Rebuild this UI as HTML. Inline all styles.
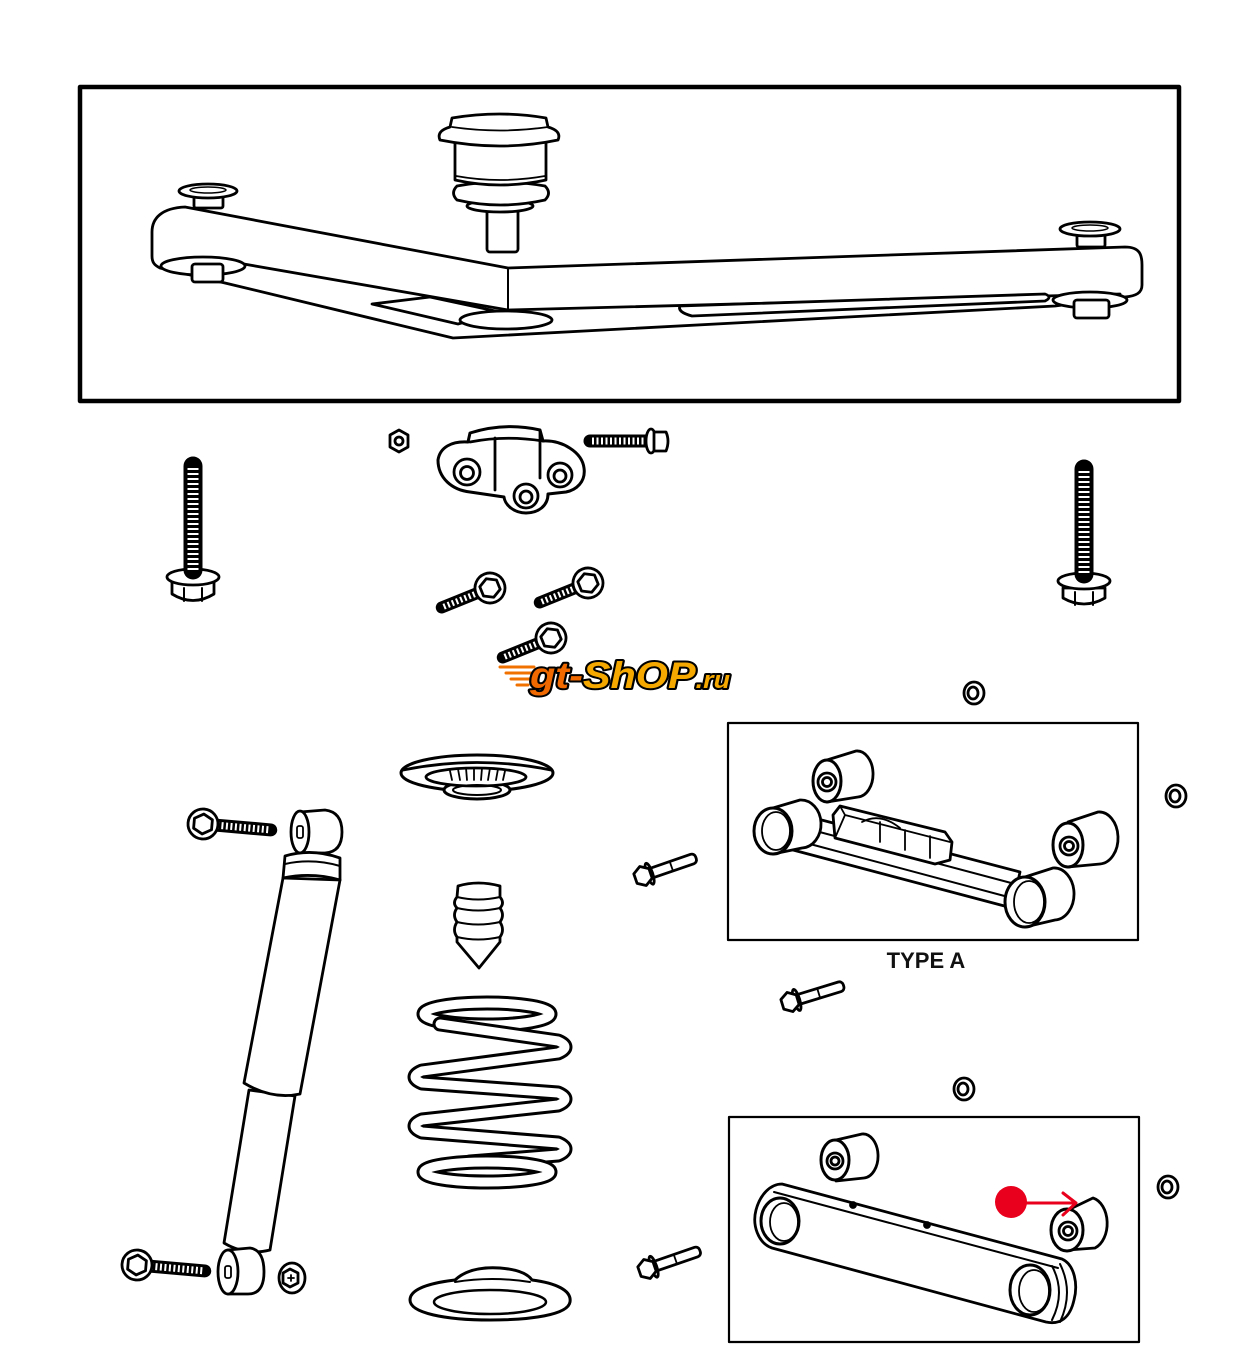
<!DOCTYPE html>
<html><head><meta charset="utf-8"><style>html,body{margin:0;padding:0;background:#fff}svg{display:block}</style></head>
<body>
<svg width="1235" height="1350" viewBox="0 0 1235 1350" xmlns="http://www.w3.org/2000/svg">
<rect width="1235" height="1350" fill="#fff"/>
<g fill="#fff" stroke="#000" stroke-width="2.8" stroke-linejoin="round" stroke-linecap="round">

<!-- TOP FRAME -->
<rect x="80" y="87" width="1099" height="314" fill="none" stroke-width="4.5"/>

<!-- Control arm -->
<path d="M185,207 L508,268 L1125,247 C1140,247 1142,255 1142,265 L1142,285 C1142,293 1136,296 1125,297 L1055,306 L453,338 L225,283 L160,268 C154,265 152,262 152,256 L152,232 C152,218 162,208 185,207 Z"/>
<path d="M238,263 L508,310 L1120,294" fill="none"/>
<path d="M508,268 L508,310" fill="none" stroke-width="2"/>
<path d="M372,304 L430,297 L500,312 L458,324 Z"/>
<ellipse cx="506" cy="320" rx="46" ry="9"/>
<path d="M680,306 L1045,294 Q1053,297 1045,301 L692,316 Q677,312 680,306 Z"/>
<ellipse cx="203" cy="266" rx="42" ry="9"/>
<rect x="192" y="264" width="31" height="18" rx="3"/>
<ellipse cx="1090" cy="300" rx="37" ry="8"/>
<rect x="1074" y="300" width="35" height="18" rx="3"/>
<!-- washers -->
<rect x="194" y="192" width="29" height="16" rx="2"/>
<ellipse cx="208" cy="191" rx="29" ry="7"/>
<ellipse cx="208" cy="190" rx="18" ry="3" fill="none" stroke-width="1.5"/>
<rect x="1077" y="230" width="28" height="17" rx="2"/>
<ellipse cx="1090" cy="229" rx="30" ry="7"/>
<ellipse cx="1090" cy="228" rx="18" ry="3" fill="none" stroke-width="1.5"/>

<!-- Ball joint -->
<rect x="487" y="208" width="31" height="44" rx="3"/>
<ellipse cx="500" cy="206" rx="33" ry="6"/>
<path d="M457,186 Q500,178 545,186 Q552,193 545,200 Q500,210 457,200 Q450,193 457,186 Z"/>
<path d="M455,140 L455,180 Q500,190 546,180 L546,140 Z"/>
<path d="M452,118 Q500,110 546,118 L548,127 Q562,131 558,140 Q500,152 440,140 Q436,131 450,127 Z"/>
<path d="M452,127 Q500,134 548,127" fill="none" stroke-width="1.8"/>
<path d="M456,176 Q500,184 545,176" fill="none" stroke-width="1.8"/>

<!-- Center bracket -->
<path d="M438,460 C440,447 452,441 468,442 L470,433 Q505,422 540,430 L543,441 C562,440 582,452 584,468 C586,482 576,490 566,492 L548,494 C548,506 538,513 526,513 C514,513 505,505 504,497 L470,492 C452,490 438,478 438,460 Z" stroke-width="3"/>
<path d="M470,442 Q505,435 543,441" fill="none"/>
<path d="M495,438 L495,490" fill="none"/>
<path d="M540,431 L540,478" fill="none"/>
<circle cx="467" cy="472" r="13"/><circle cx="467" cy="473" r="6.5"/>
<circle cx="560" cy="475" r="12"/><circle cx="560" cy="476" r="6"/>
<circle cx="526" cy="496" r="12"/><circle cx="526" cy="497" r="6"/>
<!-- small nut -->
<polygon points="399,430 408,435 408,447 399,452 390,447 390,435"/>
<circle cx="399" cy="441" r="4"/>
<!-- horizontal bolt -->
<line x1="590" y1="441" x2="650" y2="441" stroke-width="13"/>
<line x1="592" y1="441" x2="648" y2="441" stroke="#fff" stroke-width="7" stroke-dasharray="2 2.5" stroke-linecap="butt"/>
<ellipse cx="651" cy="441" rx="5" ry="12"/>
<path d="M654,432 L666,432 Q670,441 666,451 L654,451 Z"/>

<!-- small diagonal bolts -->
<g transform="translate(490,588) rotate(-22)">
<line x1="-52" y1="0" x2="-8" y2="0" stroke-width="12"/>
<line x1="-50" y1="0" x2="-10" y2="0" stroke="#fff" stroke-width="6" stroke-dasharray="2 2.5" stroke-linecap="butt"/>
<circle r="15"/><polygon points="0,-10 9,-5 9,5 0,10 -9,5 -9,-5"/></g>
<g transform="translate(588,583) rotate(-22)">
<line x1="-52" y1="0" x2="-8" y2="0" stroke-width="12"/>
<line x1="-50" y1="0" x2="-10" y2="0" stroke="#fff" stroke-width="6" stroke-dasharray="2 2.5" stroke-linecap="butt"/>
<circle r="15"/><polygon points="0,-10 9,-5 9,5 0,10 -9,5 -9,-5"/></g>
<g transform="translate(551,638) rotate(-22)">
<line x1="-52" y1="0" x2="-8" y2="0" stroke-width="12"/>
<line x1="-50" y1="0" x2="-10" y2="0" stroke="#fff" stroke-width="6" stroke-dasharray="2 2.5" stroke-linecap="butt"/>
<circle r="15"/><polygon points="0,-10 9,-5 9,5 0,10 -9,5 -9,-5"/></g>

<!-- long vertical bolts -->
<path d="M172,582 L172,594 Q193,607 214,594 L214,582 Z"/>
<path d="M184,588 L184,601 M202,588 L202,601" fill="none" stroke-width="2"/>
<ellipse cx="193" cy="577" rx="26" ry="8"/>
<line x1="193" y1="466" x2="193" y2="570" stroke-width="19"/>
<line x1="193" y1="468" x2="193" y2="570" stroke="#fff" stroke-width="11" stroke-dasharray="2 3" stroke-linecap="butt"/>

<path d="M1063,588 L1063,598 Q1084,610 1105,598 L1105,588 Z"/>
<path d="M1075,592 L1075,605 M1093,592 L1093,605" fill="none" stroke-width="2"/>
<ellipse cx="1084" cy="581" rx="26" ry="8"/>
<line x1="1084" y1="469" x2="1084" y2="574" stroke-width="19"/>
<line x1="1084" y1="471" x2="1084" y2="574" stroke="#fff" stroke-width="11" stroke-dasharray="2 3" stroke-linecap="butt"/>

<!-- nuts -->
<g transform="translate(974,693)"><ellipse rx="10" ry="11"/><ellipse cx="-1" rx="5" ry="6"/></g>
<g transform="translate(1176,796)"><ellipse rx="10" ry="11"/><ellipse cx="-1" rx="5" ry="6"/></g>
<g transform="translate(964,1089)"><ellipse rx="10" ry="11"/><ellipse cx="-1" rx="5" ry="6"/></g>
<g transform="translate(1168,1187)"><ellipse rx="10" ry="11"/><ellipse cx="-1" rx="5" ry="6"/></g>

<!-- Upper spring seat -->
<ellipse cx="477" cy="773" rx="76" ry="18" stroke-width="3"/>
<path d="M403,770 Q477,755 551,770" fill="none"/>
<ellipse cx="477" cy="790" rx="33" ry="9" stroke-width="3"/>
<ellipse cx="476" cy="777" rx="50" ry="9"/>
<path d="M450,771 L452,780 M458,769 L460,780 M466,768 L467,780 M474,768 L474,780 M482,768 L481,780 M490,768 L488,780 M498,769 L496,780 M505,771 L503,780" fill="none" stroke-width="1.8"/>
<ellipse cx="477" cy="790" rx="24" ry="5" fill="none" stroke-width="2"/>

<!-- Bumper -->
<path d="M458,886 Q478,880 500,886 L500,897 Q505,903 500,908 Q505,915 500,922 Q505,930 500,937 L500,942 L479,968 L457,942 L457,937 Q452,930 457,922 Q452,915 457,908 Q452,903 457,897 Z"/>
<path d="M457,897 Q478,902 500,897 M457,908 Q478,913 500,908 M457,922 Q478,927 500,922 M457,937 Q478,942 500,937" fill="none" stroke-width="2"/>

<!-- Spring -->
<g fill="none">
<ellipse cx="487" cy="1014" rx="63" ry="11" stroke-width="15"/>
<ellipse cx="487" cy="1014" rx="63" ry="11" stroke="#fff" stroke-width="9"/>
<path d="M440,1024 L558,1041 Q572,1047 558,1053 L422,1071 Q408,1077 422,1083 L558,1093 Q572,1099 558,1105 L422,1120 Q408,1126 422,1132 L558,1143 Q572,1149 558,1155 L470,1162" stroke-width="15"/>
<path d="M440,1024 L558,1041 Q572,1047 558,1053 L422,1071 Q408,1077 422,1083 L558,1093 Q572,1099 558,1105 L422,1120 Q408,1126 422,1132 L558,1143 Q572,1149 558,1155 L470,1162" stroke="#fff" stroke-width="9"/>
<ellipse cx="487" cy="1172" rx="63" ry="10" stroke-width="15"/>
<ellipse cx="487" cy="1172" rx="63" ry="10" stroke="#fff" stroke-width="9"/>
</g>

<!-- Lower spring seat -->
<path d="M410,1300 C410,1287 438,1282 455,1280 Q470,1266 500,1268 Q525,1270 532,1280 C555,1283 572,1290 570,1302 C568,1315 530,1320 490,1320 C445,1320 410,1313 410,1300 Z" stroke-width="3"/>
<ellipse cx="490" cy="1302" rx="56" ry="12" stroke-width="2.5"/>
<path d="M455,1282 Q492,1276 530,1282" fill="none" stroke-width="2"/>

<!-- Shock absorber -->
<g transform="translate(203,824) rotate(5)">
<line x1="12" y1="0" x2="68" y2="0" stroke-width="13"/>
<line x1="14" y1="0" x2="66" y2="0" stroke="#fff" stroke-width="7" stroke-dasharray="2 2.5" stroke-linecap="butt"/>
<circle r="15"/><polygon points="0,-10 9,-5 9,5 0,10 -9,5 -9,-5"/></g>
<path d="M300,812 L325,810 Q342,812 342,832 Q342,852 325,853 L300,853 Z"/>
<ellipse cx="300" cy="832" rx="9" ry="21"/>
<rect x="297" y="826" width="6" height="12" rx="2" fill="none" stroke-width="1.8"/>
<path d="M249,1090 L224,1243 Q246,1256 270,1250 L295,1096 Z"/>
<path d="M283,878 L244,1083 Q272,1100 300,1094 L340,880 Z"/>
<path d="M285,856 Q312,848 340,858 L340,880 Q312,872 283,878 Z"/>
<path d="M285,864 Q312,858 340,866" fill="none" stroke-width="2"/>
<path d="M228,1250 L250,1248 Q264,1250 264,1272 Q264,1294 248,1294 L228,1294 Z"/>
<ellipse cx="228" cy="1272" rx="10" ry="22"/>
<rect x="225" y="1266" width="6" height="12" rx="2" fill="none" stroke-width="1.8"/>
<g transform="translate(137,1265) rotate(5)">
<line x1="12" y1="0" x2="68" y2="0" stroke-width="13"/>
<line x1="14" y1="0" x2="66" y2="0" stroke="#fff" stroke-width="7" stroke-dasharray="2 2.5" stroke-linecap="butt"/>
<circle r="15"/><polygon points="0,-10 9,-5 9,5 0,10 -9,5 -9,-5"/></g>
<g transform="translate(292,1278)"><ellipse rx="13" ry="15"/><polygon points="-2,-9 6,-5 6,5 -2,9 -9,5 -9,-5"/><path d="M-4,0 L2,0 M-1,-3 L-1,3" fill="none" stroke-width="1.8"/></g>

<!-- small bolts near boxes -->
<g transform="translate(643,876) rotate(-19)">
<rect x="6" y="-5" width="50" height="10" rx="4"/><path d="M30,-5 L30,5" fill="none" stroke-width="1.8"/>
<ellipse cx="7" cy="0" rx="3" ry="11"/><polygon points="0,-10 8,-5 8,5 0,10 -8,5 -8,-5"/></g>
<g transform="translate(790,1002) rotate(-17)">
<rect x="6" y="-5" width="50" height="10" rx="4"/><path d="M30,-5 L30,5" fill="none" stroke-width="1.8"/>
<ellipse cx="7" cy="0" rx="3" ry="11"/><polygon points="0,-10 8,-5 8,5 0,10 -8,5 -8,-5"/></g>
<g transform="translate(647,1269) rotate(-19)">
<rect x="6" y="-5" width="50" height="10" rx="4"/><path d="M30,-5 L30,5" fill="none" stroke-width="1.8"/>
<ellipse cx="7" cy="0" rx="3" ry="11"/><polygon points="0,-10 8,-5 8,5 0,10 -8,5 -8,-5"/></g>

<!-- TYPE A box -->
<rect x="728" y="723" width="410" height="217" fill="none" stroke-width="2.2"/>
<path d="M827,760 L856,751 A16 23 0 0 1 858,797 L827,802 Z"/>
<ellipse cx="827" cy="781" rx="14" ry="21" stroke-width="3"/>
<circle cx="827" cy="782" r="9"/><circle cx="827" cy="782" r="4.5"/>
<path d="M795,813 L1020,872 L1012,908 L793,850 Z"/>
<path d="M797,826 L1015,884 M795,840 L1012,898" fill="none" stroke-width="2"/>
<path d="M833,815 L840,806 L945,832 L952,842 L950,860 L935,864 L835,838 Z"/>
<path d="M840,806 L845,815 L950,842 M845,815 L835,838 M880,822 L880,842 M905,830 L905,850 M930,836 L930,858" fill="none" stroke-width="1.8"/>
<path d="M862,822 Q880,812 900,828" fill="none" stroke-width="1.8"/>
<path d="M773,808 L800,800 A20 24 0 0 1 802,848 L773,854 Z"/>
<ellipse cx="773" cy="831" rx="19" ry="23" stroke-width="3"/>
<ellipse cx="776" cy="831" rx="14" ry="19" fill="none" stroke-width="1.8"/>
<path d="M1025,877 L1053,868 A20 26 0 0 1 1055,920 L1025,927 Z"/>
<ellipse cx="1025" cy="902" rx="20" ry="25" stroke-width="3"/>
<ellipse cx="1029" cy="902" rx="15" ry="21" fill="none" stroke-width="1.8"/>
<path d="M1068,822 L1098,812 A19 26 0 0 1 1100,864 L1068,867 Z"/>
<ellipse cx="1068" cy="845" rx="15" ry="22" stroke-width="3"/>
<circle cx="1069" cy="846" r="9"/><circle cx="1069" cy="846" r="4.5"/>

<!-- TYPE B box -->
<rect x="729" y="1117" width="410" height="225" fill="none" stroke-width="2.2"/>
<path d="M836,1140 L862,1134 A15 22 0 0 1 864,1178 L836,1181 Z"/>
<ellipse cx="835" cy="1160" rx="14" ry="20" stroke-width="3"/>
<circle cx="835" cy="1161" r="8"/><circle cx="835" cy="1161" r="4"/>
<path d="M782,1184 L1062,1259 C1075,1265 1078,1285 1074,1300 C1070,1318 1060,1325 1046,1322 L772,1248 C758,1243 752,1225 756,1210 C760,1195 770,1184 782,1184 Z" stroke-width="2.8"/>
<path d="M774,1192 L1058,1268" fill="none" stroke-width="2"/>
<ellipse cx="780" cy="1221" rx="19" ry="23" stroke-width="3"/>
<ellipse cx="784" cy="1222" rx="14" ry="19" fill="none" stroke-width="1.8"/>
<ellipse cx="1030" cy="1290" rx="20" ry="25" stroke-width="3"/>
<ellipse cx="1034" cy="1291" rx="15" ry="21" fill="none" stroke-width="1.8"/>
<path d="M1052,1266 Q1066,1292 1052,1320 M1060,1264 Q1074,1292 1060,1322" fill="none" stroke-width="2"/>
<circle cx="853" cy="1205" r="2.5" fill="#000"/><circle cx="927" cy="1225" r="2.5" fill="#000"/>
<path d="M1068,1210 L1093,1198 A18 26 0 0 1 1095,1248 L1068,1250 Z"/>
<ellipse cx="1067" cy="1230" rx="16" ry="21" stroke-width="3"/>
<circle cx="1068" cy="1231" r="9"/><circle cx="1068" cy="1231" r="4.5"/>
</g>

<!-- red marker -->
<circle cx="1011" cy="1202" r="16" fill="#e8001c"/>
<path d="M1027,1203 L1076,1203 M1063,1193 L1076,1203 L1063,1215" fill="none" stroke="#e8001c" stroke-width="3" stroke-linecap="round" stroke-linejoin="round"/>

<!-- TYPE A label -->
<text x="926" y="968" text-anchor="middle" font-family="'Liberation Sans', Arial, sans-serif" font-weight="bold" font-size="22" fill="#111">TYPE A</text>

<!-- logo -->
<g stroke="#f07000" stroke-width="3" stroke-linecap="round">
<line x1="500" y1="667" x2="534" y2="667"/><line x1="506" y1="673" x2="532" y2="673"/><line x1="511" y1="679" x2="530" y2="679"/><line x1="517" y1="685" x2="528" y2="685"/>
</g>
<text x="530" y="688" font-family="'Liberation Sans', Arial, sans-serif" font-weight="bold" font-style="italic" font-size="37" textLength="200" lengthAdjust="spacingAndGlyphs" stroke="#000" stroke-width="4" stroke-linejoin="round" paint-order="stroke" fill="#f5a800"><tspan fill="#f06800">gt-</tspan>ShOP<tspan font-size="24">.ru</tspan></text>
</svg>
</body></html>
